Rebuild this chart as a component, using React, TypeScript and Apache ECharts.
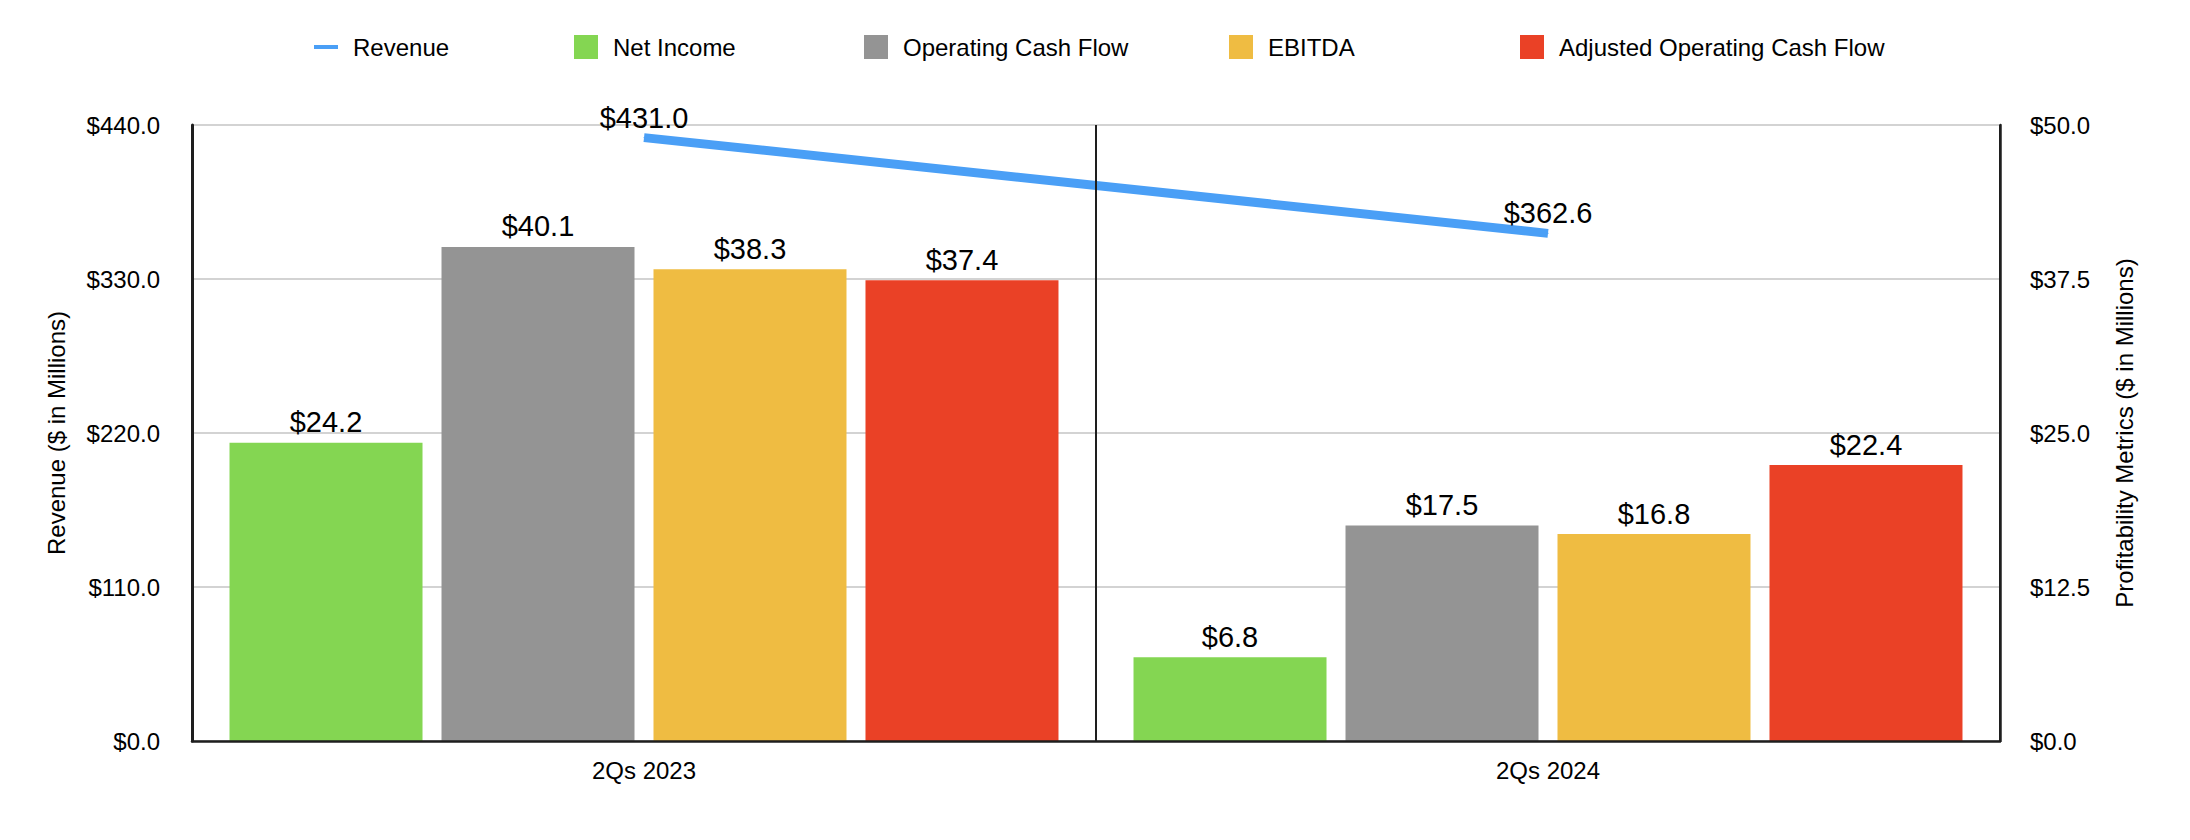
import React, { useEffect, useRef } from "react";
import * as echarts from "echarts";

const categories = ["2Qs 2023", "2Qs 2024"];
const revenue = [431.0, 362.6];
const netIncome = [24.2, 6.8];
const operatingCashFlow = [40.1, 17.5];
const ebitda = [38.3, 16.8];
const adjustedOperatingCashFlow = [37.4, 22.4];

const seriesNames = ["Revenue", "Net Income", "Operating Cash Flow", "EBITDA", "Adjusted Operating Cash Flow"];
const colors = ["#4a9ff6", "#84d652", "#949494", "#efbc42", "#ea4126"];
const legendLeft = [314, 574, 864, 1229, 1520];

const FONT = "'Liberation Sans', Arial, Helvetica, sans-serif";
const fmt = (v: number) => "$" + v.toFixed(1);

export default function App() {
  const ref = useRef<HTMLDivElement>(null);
  useEffect(() => {
    document.body.style.margin = "0";
    if (!ref.current) return;
    const chart = echarts.init(ref.current, null, { renderer: "svg" });
    const barLabel = {
      show: true,
      position: "top",
      distance: 6,
      fontSize: 29,
      color: "#000",
      fontFamily: FONT,
      formatter: (p: any) => fmt(p.value),
    };
    const barSeries = [netIncome, operatingCashFlow, ebitda, adjustedOperatingCashFlow].map((d, i) => ({
      name: seriesNames[i + 1],
      type: "bar",
      yAxisIndex: 1,
      data: d,
      barWidth: 193,
      barGap: "9.84%",
      itemStyle: { color: colors[i + 1] },
      label: barLabel,
      z: 2,
    }));
    const legends = seriesNames.map((n, i) => ({
      left: legendLeft[i],
      top: 35,
      padding: 0,
      itemWidth: 24,
      itemHeight: i === 0 ? 4 : 24,
      itemGap: 16,
      data: [{ name: n, icon: "rect" }],
      textStyle: { fontSize: 24, color: "#000", fontFamily: FONT, padding: [0, 0, 0, 10] },
      selectedMode: false,
    }));
    chart.setOption({
      animation: false,
      backgroundColor: "#fff",
      textStyle: { fontFamily: FONT },
      legend: legends,
      grid: { left: 192, right: 190, top: 125, bottom: 99, containLabel: false },
      xAxis: {
        type: "category",
        data: categories,
        z: 10,
        axisLine: { show: true, lineStyle: { color: "#1e1e1e", width: 2.5 } },
        axisTick: { show: false },
        axisLabel: { fontSize: 24, color: "#000", margin: 17, fontFamily: FONT },
        splitLine: { show: true, lineStyle: { color: "#1e1e1e", width: 2 } },
      },
      yAxis: [
        {
          type: "value",
          min: 0,
          max: 440,
          interval: 110,
          position: "left",
          name: "Revenue ($ in Millions)",
          nameLocation: "middle",
          nameRotate: 90,
          nameGap: 124,
          nameTextStyle: { fontSize: 24, color: "#000", fontFamily: FONT },
          axisLine: { show: true, lineStyle: { color: "#1e1e1e", width: 3 } },
          axisTick: { show: false },
          axisLabel: { fontSize: 24, color: "#000", margin: 32, formatter: fmt, fontFamily: FONT },
          splitLine: { show: true, lineStyle: { color: "#c4c4c4", width: 1.5 } },
        },
        {
          type: "value",
          min: 0,
          max: 50,
          interval: 12.5,
          position: "right",
          name: "Profitability Metrics ($ in Millions)",
          nameLocation: "middle",
          nameRotate: 90,
          nameGap: 112,
          nameTextStyle: { fontSize: 24, color: "#000", fontFamily: FONT },
          axisLine: { show: true, lineStyle: { color: "#1e1e1e", width: 2.5 } },
          axisTick: { show: false },
          axisLabel: { fontSize: 24, color: "#000", margin: 30, formatter: fmt, fontFamily: FONT },
          splitLine: { show: false },
        },
      ],
      series: [
        {
          name: seriesNames[0],
          type: "line",
          yAxisIndex: 0,
          data: revenue,
          symbol: "circle",
          symbolSize: 1,
          showSymbol: true,
          itemStyle: { color: colors[0] },
          lineStyle: { color: colors[0], width: 9, cap: "butt" },
          label: {
            show: true,
            position: "top",
            distance: 5,
            fontSize: 29,
            color: "#000",
            fontFamily: FONT,
            formatter: (p: any) => fmt(p.value),
          },
          z: 5,
        },
        ...barSeries,
      ],
    });
    return () => chart.dispose();
  }, []);
  return <div ref={ref} style={{ width: 2190, height: 840 }} />;
}
